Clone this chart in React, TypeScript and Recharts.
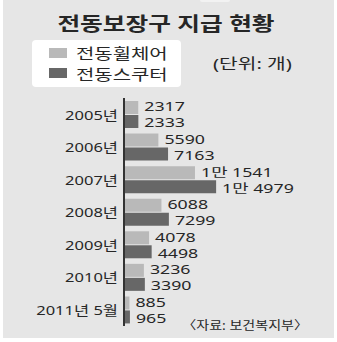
import React from 'react';
import { BarChart, Bar, XAxis, YAxis, LabelList } from 'recharts';

const years = ['2005년', '2006년', '2007년', '2008년', '2009년', '2010년', '2011년 5월'];
const wheelchair = [2317, 5590, 11541, 6088, 4078, 3236, 885];
const scooter = [2333, 7163, 14979, 7299, 4498, 3390, 965];
const seriesNames = ['전동휠체어', '전동스쿠터'];
const colors = ['#b9b9b9', '#676767'];

const data = years.map((y, i) => ({ year: y, wheelchair: wheelchair[i], scooter: scooter[i] }));

const FONT = "'Noto Sans', 'Noto Sans CJK KR', sans-serif";
const TEXT = '#262626';
const SX = 1.27;

const fmt = (v: number) => (v >= 10000 ? `${Math.floor(v / 10000)}만 ${v % 10000}` : `${v}`);

const YTick = (props: any) => {
  const { x, y, payload } = props;
  return (
    <g transform={`translate(${x},${y})`}>
      <text transform={`scale(${SX},1)`} x={0} y={0} textAnchor="end" dominantBaseline="central"
        style={{ fontFamily: FONT, fontSize: 13 }} fill={TEXT}>{payload.value}</text>
    </g>
  );
};

const makeLabel = (dy: number) => (props: any) => {
  const { x, y, width, height, value } = props;
  const tx = x + width + 6;
  const ty = y + height / 2 + dy;
  return (
    <g transform={`translate(${tx},${ty})`}>
      <text transform="scale(1.42,1)" x={0} y={0} textAnchor="start" dominantBaseline="central"
        style={{ fontFamily: FONT, fontSize: 12.5 }} fill={TEXT}>{fmt(value)}</text>
    </g>
  );
};

const ScaledText = ({ x, y, size, anchor = 'start', weight = 400, sx = SX, children }: any) => (
  <g transform={`translate(${x},${y})`}>
    <text transform={`scale(${sx},1)`} x={0} y={0} textAnchor={anchor} dominantBaseline="central"
      style={{ fontFamily: FONT, fontSize: size, fontWeight: weight }} fill={TEXT}>{children}</text>
  </g>
);

export default function App() {
  return (
    <div style={{ position: 'absolute', left: 0, top: 0, width: 337, height: 342, background: '#fff' }}>
      <svg width={337} height={342} style={{ position: 'absolute', left: 0, top: 0 }}>
        <rect x={3} y={0} width={331} height={338} fill="#e6e6e6" />
        <rect x={200} y={-3} width={30} height={5} rx={2} fill="#f2f2f2" />
        <ScaledText x={166} y={23} size={19} anchor="middle" weight={700} sx={1.3}>전동보장구 지급 현황</ScaledText>
        <rect x={32} y={40} width={149} height={47} rx={4} fill="#ffffff" />
        <rect x={49} y={48} width={18} height={10} fill={colors[0]} />
        <rect x={49} y={68} width={18} height={10} fill={colors[1]} />
        <ScaledText x={76} y={53} size={15} sx={1.33}>{seriesNames[0]}</ScaledText>
        <ScaledText x={76} y={74} size={15} sx={1.33}>{seriesNames[1]}</ScaledText>
        <ScaledText x={213} y={63} size={14.5} sx={1.4}>(단위: 개)</ScaledText>
        <ScaledText x={308} y={325} size={12} anchor="end" sx={1.17}>〈자료: 보건복지부〉</ScaledText>
      </svg>
      <div style={{ position: 'absolute', left: 0, top: 0 }}>
        <BarChart width={337} height={342} data={data} layout="vertical"
          margin={{ top: 98, right: 90, bottom: 16, left: 0 }} barSize={13} barGap={1}>
          <XAxis type="number" domain={[0, 20000]} hide />
          <YAxis type="category" dataKey="year" width={124} tickLine={false} tickSize={0} tickMargin={6}
            axisLine={{ stroke: '#333', strokeWidth: 2 }} tick={<YTick />} interval={0} />
          <Bar dataKey="wheelchair" fill={colors[0]} isAnimationActive={false}>
            <LabelList dataKey="wheelchair" content={makeLabel(-1)} />
          </Bar>
          <Bar dataKey="scooter" fill={colors[1]} isAnimationActive={false}>
            <LabelList dataKey="scooter" content={makeLabel(1)} />
          </Bar>
        </BarChart>
      </div>
    </div>
  );
}
